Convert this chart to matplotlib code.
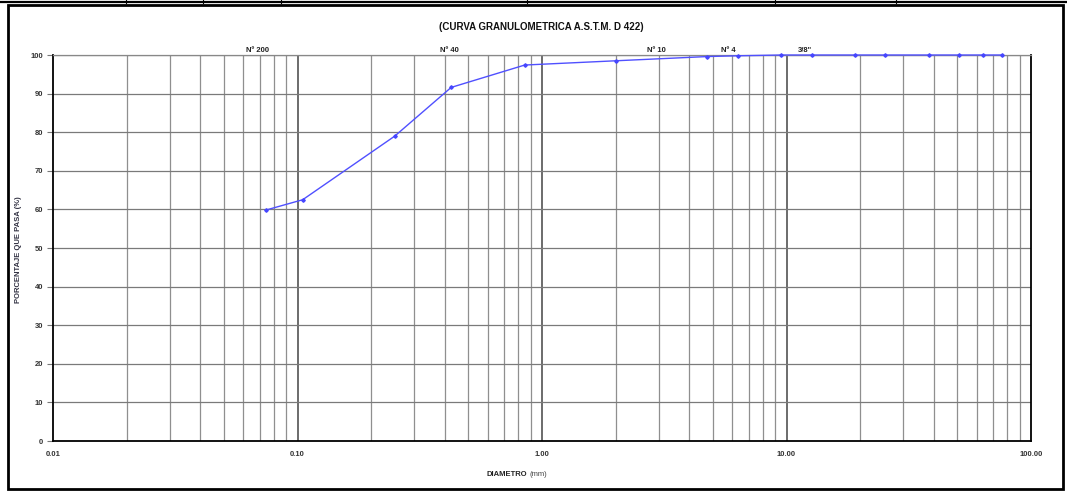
import matplotlib
matplotlib.use("Agg")
import matplotlib.pyplot as plt
from matplotlib.lines import Line2D
from matplotlib.patches import Rectangle

# Sieve openings (mm) and cumulative percent passing
diameter_mm = [0.074, 0.105, 0.250, 0.425, 0.850, 2.000, 4.750, 6.350,
               9.525, 12.700, 19.050, 25.400, 38.100, 50.800, 63.500, 76.200]
percent_passing = [59.8, 62.5, 79.0, 91.6, 97.4, 98.5, 99.6, 99.8,
                   100.0, 100.0, 100.0, 100.0, 100.0, 100.0, 100.0, 100.0]

# Sieve names written above the chart and where they sit on the axis
sieve_names = ["Nº 200", "Nº 40", "Nº 10", "Nº 4", '3/8"']
sieve_label_x = [0.0686, 0.42, 2.93, 5.78, 11.9]

x_ticks = [0.01, 0.1, 1, 10, 100]
x_tick_labels = ["0.01", "0.10", "1.00", "10.00", "100.00"]
y_ticks = list(range(0, 101, 10))

title = "(CURVA GRANULOMETRICA A.S.T.M. D 422)"
y_label = "PORCENTAJE QUE PASA (%)"

FONT = ["Liberation Sans Narrow", "Liberation Sans", "DejaVu Sans"]
plt.rcParams["font.family"] = FONT

W, H = 1067, 496
fig = plt.figure(figsize=(W / 100, H / 100), dpi=100)
fig.patch.set_facecolor("white")

# Outer frame and the remains of the table row above it
fig.add_artist(Rectangle((8 / W, 1 - 489 / H), 1055 / W, 484 / H,
                         transform=fig.transFigure, fill=False,
                         edgecolor="black", linewidth=2.0))
fig.add_artist(Line2D([0, 1], [1 - 2 / H, 1 - 2 / H], transform=fig.transFigure,
                      color="black", linewidth=1.6))
for sx in [126, 203, 281, 527, 775, 896]:
    fig.add_artist(Line2D([sx / W, sx / W], [1, 1 - 3 / H], transform=fig.transFigure,
                          color="black", linewidth=0.8))

ax = fig.add_axes([53 / W, 1 - 441 / H, 978 / W, 386 / H])
ax.set_xscale("log")
ax.set_xlim(0.01, 100)
ax.set_ylim(0, 100)

# Log grid: minor lines lighter, decade lines darker
for dec in [0.01, 0.1, 1, 10]:
    for m in range(2, 10):
        ax.axvline(dec * m, color="#8f8f8f", linewidth=0.9, zorder=1)
for dec in [0.1, 1, 10]:
    ax.axvline(dec, color="#444444", linewidth=1.1, zorder=1)
for yv in y_ticks[1:]:
    ax.axhline(yv, color="#7a7a7a", linewidth=0.9, zorder=1)

ax.plot(diameter_mm, percent_passing, color="#5050ff", linewidth=1.0,
        marker="D", markersize=1.8, markerfacecolor="#4646ff",
        markeredgecolor="#4646ff", zorder=3, clip_on=False)

ax.set_xticks(x_ticks)
ax.set_xticklabels(x_tick_labels)
ax.xaxis.set_minor_locator(matplotlib.ticker.NullLocator())
ax.set_yticks(y_ticks)
ax.set_yticklabels([str(v) for v in y_ticks])
ax.tick_params(axis="x", length=0, pad=7, labelsize=5.5)
ax.tick_params(axis="y", length=4, width=0.8, color="#777777", pad=3, labelsize=5.5)
for lab in ax.get_xticklabels() + ax.get_yticklabels():
    lab.set_fontweight("bold")
    lab.set_color("#333333")

for side in ["left", "bottom", "right"]:
    ax.spines[side].set_color("black")
    ax.spines[side].set_linewidth(1.3)
ax.spines["top"].set_color("#888888")
ax.spines["top"].set_linewidth(0.9)

for name, xv in zip(sieve_names, sieve_label_x):
    ax.text(xv, 100.3, name, ha="center", va="bottom", fontsize=5.5,
            fontweight="bold", color="#222222")

fig.text(541 / W, 1 - 27 / H, title, ha="center", va="center",
         fontsize=7, fontweight="bold", color="#111111")
fig.text(19 / W, 1 - 250 / H, y_label, ha="center", va="center", rotation=90,
         fontsize=5.5, fontweight="bold", color="#333344")
fig.text(527 / W, 1 - 474 / H, "DIAMETRO", ha="right", va="center",
         fontsize=5.5, fontweight="bold", color="#222222")
fig.text(530 / W, 1 - 474 / H, "(mm)", ha="left", va="center",
         fontsize=5.5, color="#444444")

fig.savefig("out.png", dpi=100, facecolor="white")
